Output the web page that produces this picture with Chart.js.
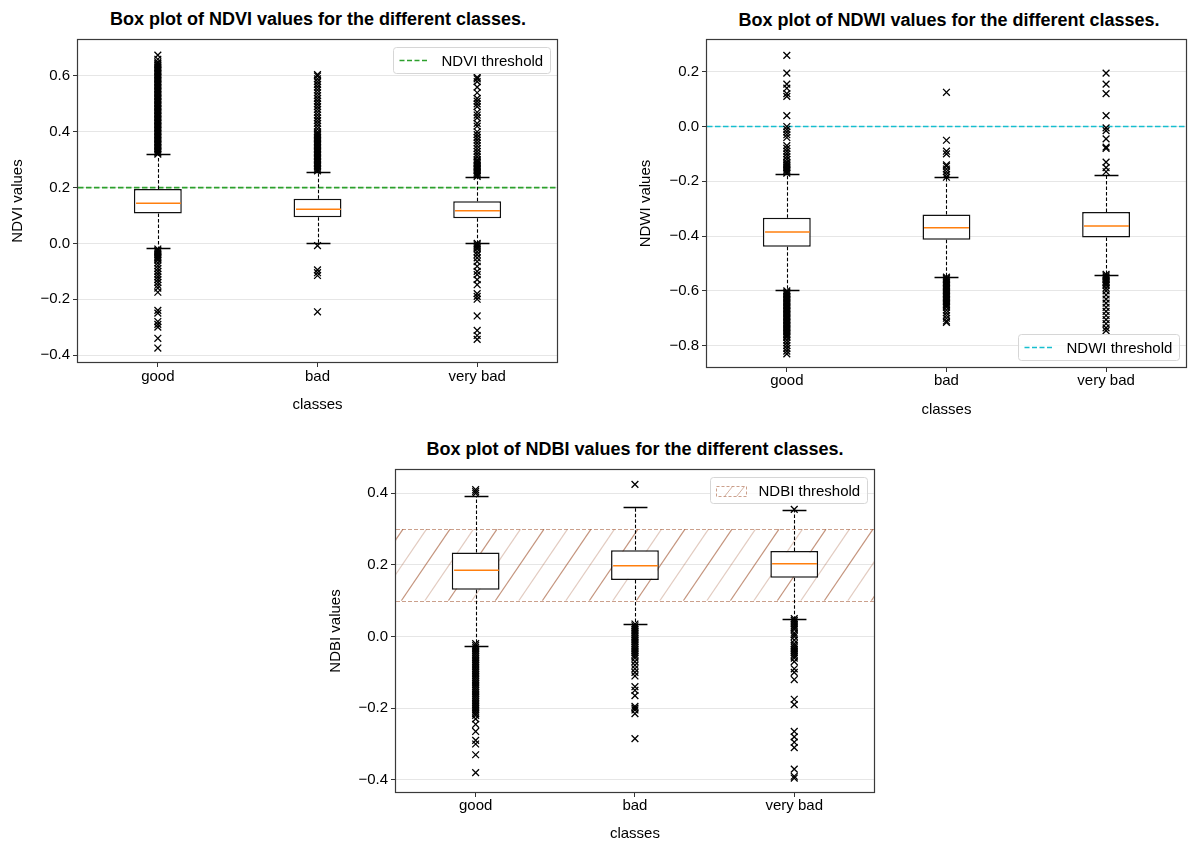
<!DOCTYPE html>
<html>
<head>
<meta charset="utf-8">
<title>Box plots of NDVI, NDWI and NDBI by class</title>
<script src="https://cdn.jsdelivr.net/npm/chart.js@4.4.1/dist/chart.umd.min.js"></script>
<style>
    html, body { margin: 0; padding: 0; background: #ffffff; }
    body { position: relative; width: 1192px; height: 843px; overflow: hidden; font-family: 'Liberation Sans', Arial, sans-serif; }
    canvas { position: absolute; }
    .plot-title {
        position: absolute;
        transform: translateX(-50%);
        white-space: nowrap;
        font-size: 18px;
        line-height: 22px;
        font-weight: bold;
        color: #000000;
    }
</style>
</head>
<body>
<div class="plot-title" style="left:318px; top:8px;">Box plot of NDVI values for the different classes.</div>
<div class="plot-title" style="left:949px; top:9px;">Box plot of NDWI values for the different classes.</div>
<div class="plot-title" style="left:635px; top:438px;">Box plot of NDBI values for the different classes.</div>
<canvas id="ndvi-box" width="600" height="420" style="left:0; top:0;"></canvas>
<canvas id="ndwi-box" width="592" height="420" style="left:600px; top:0;"></canvas>
<canvas id="ndbi-box" width="560" height="413" style="left:320px; top:430px;"></canvas>
<script>
'use strict';

var classes = ['good', 'bad', 'very bad'];

// NDVI
var ndviTicks = [-0.4, -0.2, 0.0, 0.2, 0.4, 0.6];
var ndviRange = [-0.425, 0.729];
var ndviWhiskerLow = [-0.018, 0.0, 0.0];
var ndviQ1 = [0.107, 0.094, 0.090];
var ndviMedian = [0.144, 0.122, 0.117];
var ndviQ3 = [0.195, 0.160, 0.151];
var ndviWhiskerHigh = [0.322, 0.256, 0.238];
var ndviThreshold = 0.2;
var ndviFliersGood = [
    0.32, 0.325, 0.33, 0.335, 0.34, 0.345, 0.35, 0.355, 0.36, 0.365, 0.37, 0.375, 0.38, 0.385, 0.39, 0.395,
    0.40, 0.405, 0.41, 0.415, 0.42, 0.425, 0.43, 0.435, 0.44, 0.445, 0.45, 0.455, 0.46, 0.465, 0.47, 0.475,
    0.48, 0.485, 0.49, 0.495, 0.50, 0.505, 0.51, 0.515, 0.52, 0.525, 0.53, 0.535, 0.54, 0.545, 0.55, 0.555,
    0.56, 0.565, 0.57, 0.575, 0.58, 0.585, 0.59, 0.595, 0.60, 0.605, 0.61, 0.615, 0.62, 0.625, 0.63, 0.635,
    0.64, 0.645, 0.65, 0.66, 0.675,
    -0.02, -0.025, -0.03, -0.035, -0.04, -0.045, -0.05, -0.055, -0.06, -0.07, -0.08, -0.09, -0.10, -0.11,
    -0.12, -0.13, -0.14, -0.15, -0.16, -0.175, -0.24, -0.25, -0.28, -0.29, -0.30, -0.34, -0.375
];
var ndviFliersBad = [
    0.26, 0.265, 0.27, 0.275, 0.28, 0.285, 0.29, 0.295, 0.30, 0.305, 0.31, 0.315, 0.32, 0.325, 0.33, 0.335,
    0.34, 0.345, 0.35, 0.355, 0.36, 0.365, 0.37, 0.375, 0.38, 0.385, 0.39, 0.395, 0.40, 0.41, 0.42, 0.43,
    0.44, 0.45, 0.46, 0.47, 0.48, 0.49, 0.50, 0.51, 0.52, 0.53, 0.54, 0.55, 0.56, 0.57, 0.58, 0.59, 0.60, 0.605,
    -0.008, -0.095, -0.105, -0.115, -0.245
];
var ndviFliersVeryBad = [
    0.24, 0.245, 0.25, 0.255, 0.26, 0.265, 0.27, 0.275, 0.28, 0.285, 0.29, 0.295, 0.30, 0.31, 0.32, 0.33,
    0.34, 0.35, 0.36, 0.37, 0.38, 0.39, 0.40,
    0.42, 0.43, 0.45, 0.46, 0.47, 0.49, 0.50, 0.51, 0.52, 0.54, 0.56, 0.58, 0.59, 0.595,
    0.0, -0.005, -0.01, -0.015, -0.02, -0.03, -0.04, -0.052, -0.065, -0.082, -0.10, -0.112, -0.13, -0.148,
    -0.18, -0.19, -0.20, -0.26, -0.312, -0.33, -0.344
];

// NDWI
var ndwiTicks = [-0.8, -0.6, -0.4, -0.2, 0.0, 0.2];
var ndwiRange = [-0.878, 0.316];
var ndwiWhiskerLow = [-0.596, -0.551, -0.541];
var ndwiQ1 = [-0.439, -0.413, -0.405];
var ndwiMedian = [-0.385, -0.370, -0.363];
var ndwiQ3 = [-0.333, -0.321, -0.312];
var ndwiWhiskerHigh = [-0.173, -0.185, -0.177];
var ndwiThreshold = 0.0;
var ndwiFliersGood = [
    -0.17, -0.165, -0.16, -0.155, -0.15, -0.145, -0.14, -0.135, -0.13, -0.12, -0.11, -0.10, -0.09, -0.08, -0.07,
    -0.04, -0.03, -0.02, -0.01, 0.0, 0.04, 0.11, 0.12, 0.14, 0.155, 0.195, 0.26,
    -0.60, -0.605, -0.61, -0.615, -0.62, -0.625, -0.63, -0.635, -0.64, -0.645, -0.65, -0.655, -0.66, -0.665,
    -0.67, -0.675, -0.68, -0.685, -0.69, -0.695, -0.70, -0.705, -0.71, -0.715, -0.72, -0.725, -0.73, -0.735,
    -0.74, -0.745, -0.75, -0.755, -0.76, -0.765, -0.77, -0.78, -0.79, -0.80, -0.81, -0.82, -0.83
];
var ndwiFliersBad = [
    -0.185, -0.175, -0.165, -0.155, -0.145, -0.14, -0.10, -0.09, -0.05, 0.125,
    -0.55, -0.555, -0.56, -0.565, -0.57, -0.575, -0.58, -0.585, -0.59, -0.595, -0.60, -0.605, -0.61, -0.615,
    -0.62, -0.625, -0.63, -0.635, -0.64, -0.645, -0.65, -0.655, -0.66, -0.67, -0.68, -0.69, -0.70, -0.71, -0.715
];
var ndwiFliersVeryBad = [
    -0.165, -0.15, -0.13, -0.08, -0.075, -0.045, -0.015, -0.005, 0.04, 0.12, 0.155, 0.195,
    -0.54, -0.545, -0.55, -0.555, -0.56, -0.565, -0.57, -0.575, -0.58, -0.59, -0.60, -0.615, -0.63, -0.645,
    -0.66, -0.675, -0.69, -0.705, -0.72, -0.735, -0.745
];

// NDBI
var ndbiTicks = [-0.4, -0.2, 0.0, 0.2, 0.4];
var ndbiRange = [-0.434, 0.465];
var ndbiWhiskerLow = [-0.025, 0.036, 0.048];
var ndbiQ1 = [0.131, 0.158, 0.164];
var ndbiMedian = [0.185, 0.198, 0.203];
var ndbiQ3 = [0.235, 0.241, 0.239];
var ndbiWhiskerHigh = [0.393, 0.363, 0.352];
var ndbiBand = [0.1, 0.3];
var ndbiFliersGood = [
    0.40, 0.405, 0.41,
    -0.02, -0.025, -0.03, -0.035, -0.04, -0.045, -0.05, -0.055, -0.06, -0.065, -0.07, -0.075, -0.08, -0.085,
    -0.09, -0.095, -0.10, -0.105, -0.11, -0.115, -0.12, -0.125, -0.13, -0.135, -0.14, -0.145, -0.15, -0.155,
    -0.16, -0.165, -0.17, -0.175, -0.18, -0.185, -0.19, -0.195, -0.20, -0.205, -0.21, -0.215, -0.22,
    -0.23, -0.245, -0.265, -0.29, -0.30, -0.33, -0.38
];
var ndbiFliersBad = [
    0.425,
    0.035, 0.03, 0.025, 0.02, 0.015, 0.01, 0.005, 0.0, -0.005, -0.01, -0.015, -0.02, -0.025, -0.03, -0.035,
    -0.04, -0.045, -0.05, -0.055, -0.06, -0.07, -0.08, -0.09, -0.10, -0.11, -0.14, -0.15, -0.165,
    -0.195, -0.20, -0.205, -0.215, -0.285
];
var ndbiFliersVeryBad = [
    0.355,
    0.05, 0.045, 0.04, 0.035, 0.03, 0.025, 0.02, 0.01, 0.005, 0.0, -0.01, -0.02, -0.025, -0.03, -0.035,
    -0.04, -0.045, -0.05, -0.055, -0.06, -0.07, -0.09, -0.10, -0.12, -0.175, -0.19,
    -0.265, -0.28, -0.295, -0.31, -0.37, -0.39, -0.395
];

var FONT_FAMILY = "'Liberation Sans', Arial, sans-serif";
var BASE_FONT = { family: FONT_FAMILY, size: 15, lineHeight: 1.2 };
var HATCH_RGB = '160, 82, 45';

function formatTick(value) {
    var v = Math.abs(value) < 1e-9 ? 0 : value;
    return v.toFixed(1).replace('-', '\u2212');
}

function crisp(v) {
    return Math.round(v) + 0.5;
}

function drawHatchBand(ctx, area, yTop, yBottom) {
    var h = yBottom - yTop;
    var slant = h * 0.68;
    var step = 23.5;
    var k = 0;

    ctx.save();
    ctx.beginPath();
    ctx.rect(area.left, yTop, area.width, h);
    ctx.clip();
    ctx.lineWidth = 1.2;
    for (var x = area.left + 7 - slant - 4 * step; x < area.right + step; x += step) {
        ctx.strokeStyle = k % 2 === 0 ? 'rgba(' + HATCH_RGB + ', 0.62)' : 'rgba(' + HATCH_RGB + ', 0.3)';
        ctx.beginPath();
        ctx.moveTo(x, yBottom);
        ctx.lineTo(x + slant, yTop);
        ctx.stroke();
        k++;
    }
    ctx.restore();

    ctx.save();
    ctx.strokeStyle = 'rgba(' + HATCH_RGB + ', 0.55)';
    ctx.lineWidth = 1;
    ctx.setLineDash([4, 2]);
    [yTop, yBottom].forEach(function (y) {
        ctx.beginPath();
        ctx.moveTo(area.left, crisp(y));
        ctx.lineTo(area.right, crisp(y));
        ctx.stroke();
    });
    ctx.restore();
}

function roundedRect(ctx, x, y, w, h, r) {
    ctx.beginPath();
    ctx.moveTo(x + r, y);
    ctx.lineTo(x + w - r, y);
    ctx.arcTo(x + w, y, x + w, y + r, r);
    ctx.lineTo(x + w, y + h - r);
    ctx.arcTo(x + w, y + h, x + w - r, y + h, r);
    ctx.lineTo(x + r, y + h);
    ctx.arcTo(x, y + h, x, y + h - r, r);
    ctx.lineTo(x, y + r);
    ctx.arcTo(x, y, x + r, y, r);
    ctx.closePath();
}

function drawLegend(ctx, area, spec) {
    ctx.save();
    ctx.font = '15px ' + FONT_FAMILY;
    var tw = ctx.measureText(spec.legendText).width;
    var w = Math.round(6 + 30 + 12 + tw + 7);
    var h = 26;
    var left = Math.round(area.right - 7 - w) + 0.5;
    var top = spec.legendAt === 'bottom' ? Math.round(area.bottom - 7 - h) + 0.5 : Math.round(area.top + 7) + 0.5;
    var midY = top + h / 2;

    roundedRect(ctx, left, top, w, h, 3);
    ctx.fillStyle = 'rgba(255, 255, 255, 0.8)';
    ctx.fill();
    ctx.strokeStyle = '#d6d6d6';
    ctx.lineWidth = 1;
    ctx.stroke();

    if (spec.band) {
        var hx = left + 6;
        var hy = Math.round(midY - 5) + 0.5;
        ctx.save();
        ctx.beginPath();
        ctx.rect(hx, hy, 30, 10);
        ctx.clip();
        ctx.strokeStyle = 'rgba(' + HATCH_RGB + ', 0.45)';
        ctx.beginPath();
        ctx.moveTo(hx + 8, hy + 10);
        ctx.lineTo(hx + 16, hy);
        ctx.moveTo(hx + 20, hy + 10);
        ctx.lineTo(hx + 28, hy);
        ctx.stroke();
        ctx.restore();
        ctx.strokeStyle = 'rgba(' + HATCH_RGB + ', 0.55)';
        ctx.setLineDash([3, 2]);
        ctx.strokeRect(hx, hy, 30, 10);
        ctx.setLineDash([]);
    } else {
        ctx.strokeStyle = spec.thresholdColor;
        ctx.lineWidth = 1.5;
        ctx.setLineDash([5, 2.5]);
        ctx.beginPath();
        ctx.moveTo(left + 6, midY);
        ctx.lineTo(left + 36, midY);
        ctx.stroke();
        ctx.setLineDash([]);
    }

    ctx.fillStyle = '#000000';
    ctx.textBaseline = 'middle';
    ctx.textAlign = 'left';
    ctx.fillText(spec.legendText, left + 48, midY + 1);
    ctx.restore();
}

function makeBoxPlugin(spec) {
    return {
        id: 'boxDetails',
        beforeDatasetsDraw: function (chart) {
            var ctx = chart.ctx;
            var area = chart.chartArea;
            var y = chart.scales.y;
            if (spec.band) {
                drawHatchBand(ctx, area, y.getPixelForValue(spec.band[1]), y.getPixelForValue(spec.band[0]));
            } else {
                var py = y.getPixelForValue(spec.threshold);
                ctx.save();
                ctx.strokeStyle = spec.thresholdColor;
                ctx.lineWidth = 1.6;
                ctx.setLineDash([5.5, 2.5]);
                ctx.beginPath();
                ctx.moveTo(area.left, py);
                ctx.lineTo(area.right, py);
                ctx.stroke();
                ctx.restore();
            }
        },
        afterDatasetsDraw: function (chart) {
            var ctx = chart.ctx;
            var x = chart.scales.x;
            var y = chart.scales.y;
            var boxes = chart.getDatasetMeta(0).data;

            ctx.save();
            spec.median.forEach(function (m, i) {
                var cx = crisp(x.getPixelForValue(i));
                var half = boxes[i].width / 2;
                var capHalf = half / 2;
                var yq1 = y.getPixelForValue(spec.q1[i]);
                var yq3 = y.getPixelForValue(spec.q3[i]);
                var ylo = crisp(y.getPixelForValue(spec.whiskerLow[i]));
                var yhi = crisp(y.getPixelForValue(spec.whiskerHigh[i]));

                // dashed whiskers
                ctx.strokeStyle = '#000000';
                ctx.lineWidth = 1.1;
                ctx.setLineDash([3.5, 2]);
                ctx.beginPath();
                ctx.moveTo(cx, yq3);
                ctx.lineTo(cx, yhi);
                ctx.moveTo(cx, yq1);
                ctx.lineTo(cx, ylo);
                ctx.stroke();

                // caps
                ctx.setLineDash([]);
                ctx.lineWidth = 1.3;
                ctx.beginPath();
                ctx.moveTo(cx - capHalf, yhi);
                ctx.lineTo(cx + capHalf, yhi);
                ctx.moveTo(cx - capHalf, ylo);
                ctx.lineTo(cx + capHalf, ylo);
                ctx.stroke();

                // median
                var ym = y.getPixelForValue(m);
                ctx.strokeStyle = '#ff7f0e';
                ctx.lineWidth = 1.5;
                ctx.beginPath();
                ctx.moveTo(cx - half + 1.5, ym);
                ctx.lineTo(cx + half - 1.5, ym);
                ctx.stroke();
            });
            ctx.restore();
        },
        afterDraw: function (chart) {
            var ctx = chart.ctx;
            var area = chart.chartArea;
            ctx.save();
            ctx.strokeStyle = '#3a3a3a';
            ctx.lineWidth = 1.2;
            ctx.strokeRect(crisp(area.left) - 1, crisp(area.top) - 1, Math.round(area.width) + 1, Math.round(area.height) + 1);
            ctx.restore();
            drawLegend(ctx, area, spec);
        }
    };
}

function buildBoxPlotConfig(spec, g) {
    var datasets = [
        {
            type: 'bar',
            data: spec.q1.map(function (q, i) {
                return [q, spec.q3[i]];
            }),
            backgroundColor: '#ffffff',
            borderColor: '#111111',
            borderWidth: 1.5,
            borderSkipped: false,
            barPercentage: 0.3,
            categoryPercentage: 1,
            order: 2,
        },
    ];

    spec.fliers.forEach(function (values, i) {
        datasets.push({
            type: 'scatter',
            data: values.map(function (v) {
                return { x: classes[i], y: v };
            }),
            pointStyle: 'crossRot',
            pointRadius: 4.8,
            pointHoverRadius: 4.8,
            borderColor: '#000000',
            backgroundColor: '#000000',
            borderWidth: 1.3,
            order: 1,
        });
    });

    return {
        type: 'bar',
        data: { labels: classes, datasets: datasets },
        options: {
            responsive: false,
            animation: false,
            devicePixelRatio: 1,
            events: [],
            layout: { padding: { top: g.padTop, right: g.padRight, left: 0, bottom: 0 } },
            plugins: {
                legend: { display: false },
                tooltip: { enabled: false },
                title: { display: false },
            },
            scales: {
                x: {
                    type: 'category',
                    offset: true,
                    grid: {
                        display: true,
                        drawOnChartArea: false,
                        drawTicks: true,
                        tickLength: 5,
                        tickColor: '#333333',
                        offset: false,
                    },
                    border: { display: false },
                    ticks: { color: '#000000', font: BASE_FONT, padding: g.xTickPad, maxRotation: 0 },
                    title: {
                        display: true,
                        text: 'classes',
                        color: '#000000',
                        font: BASE_FONT,
                        padding: { top: 0, bottom: g.xTitlePad },
                    },
                    afterFit: function (scale) {
                        scale.height = g.xAxisHeight;
                    },
                },
                y: {
                    type: 'linear',
                    min: spec.range[0],
                    max: spec.range[1],
                    grid: { color: '#e6e6e6', lineWidth: 1, tickLength: 5, tickColor: '#333333' },
                    border: { display: false },
                    ticks: { color: '#000000', font: BASE_FONT, padding: 3, callback: formatTick },
                    afterBuildTicks: function (scale) {
                        scale.ticks = spec.ticks.map(function (v) {
                            return { value: v };
                        });
                    },
                    title: {
                        display: true,
                        text: spec.name + ' values',
                        color: '#000000',
                        font: BASE_FONT,
                        padding: { top: g.yTitlePad, bottom: 0 },
                    },
                    afterFit: function (scale) {
                        scale.width = g.yAxisWidth;
                    },
                },
            },
        },
        plugins: [makeBoxPlugin(spec)],
    };
}

var ndviSpec = {
    name: 'NDVI',
    ticks: ndviTicks,
    range: ndviRange,
    whiskerLow: ndviWhiskerLow,
    q1: ndviQ1,
    median: ndviMedian,
    q3: ndviQ3,
    whiskerHigh: ndviWhiskerHigh,
    fliers: [ndviFliersGood, ndviFliersBad, ndviFliersVeryBad],
    threshold: ndviThreshold,
    thresholdColor: '#2ca02c',
    legendText: 'NDVI threshold',
    legendAt: 'top',
};

var ndwiSpec = {
    name: 'NDWI',
    ticks: ndwiTicks,
    range: ndwiRange,
    whiskerLow: ndwiWhiskerLow,
    q1: ndwiQ1,
    median: ndwiMedian,
    q3: ndwiQ3,
    whiskerHigh: ndwiWhiskerHigh,
    fliers: [ndwiFliersGood, ndwiFliersBad, ndwiFliersVeryBad],
    threshold: ndwiThreshold,
    thresholdColor: '#17becf',
    legendText: 'NDWI threshold',
    legendAt: 'bottom',
};

var ndbiSpec = {
    name: 'NDBI',
    ticks: ndbiTicks,
    range: ndbiRange,
    whiskerLow: ndbiWhiskerLow,
    q1: ndbiQ1,
    median: ndbiMedian,
    q3: ndbiQ3,
    whiskerHigh: ndbiWhiskerHigh,
    fliers: [ndbiFliersGood, ndbiFliersBad, ndbiFliersVeryBad],
    band: ndbiBand,
    legendText: 'NDBI threshold',
    legendAt: 'top',
};

new Chart(document.getElementById('ndvi-box'), buildBoxPlotConfig(ndviSpec, {
    padTop: 40, padRight: 43, yAxisWidth: 78, xAxisHeight: 58, xTickPad: 1, xTitlePad: 6, yTitlePad: 9,
}));
new Chart(document.getElementById('ndwi-box'), buildBoxPlotConfig(ndwiSpec, {
    padTop: 40, padRight: 2, yAxisWidth: 107, xAxisHeight: 53, xTickPad: 0, xTitlePad: 1, yTitlePad: 37,
}));
new Chart(document.getElementById('ndbi-box'), buildBoxPlotConfig(ndbiSpec, {
    padTop: 40, padRight: 6, yAxisWidth: 76, xAxisHeight: 51, xTickPad: 0, xTitlePad: 0, yTitlePad: 7,
}));
</script>
</body>
</html>
